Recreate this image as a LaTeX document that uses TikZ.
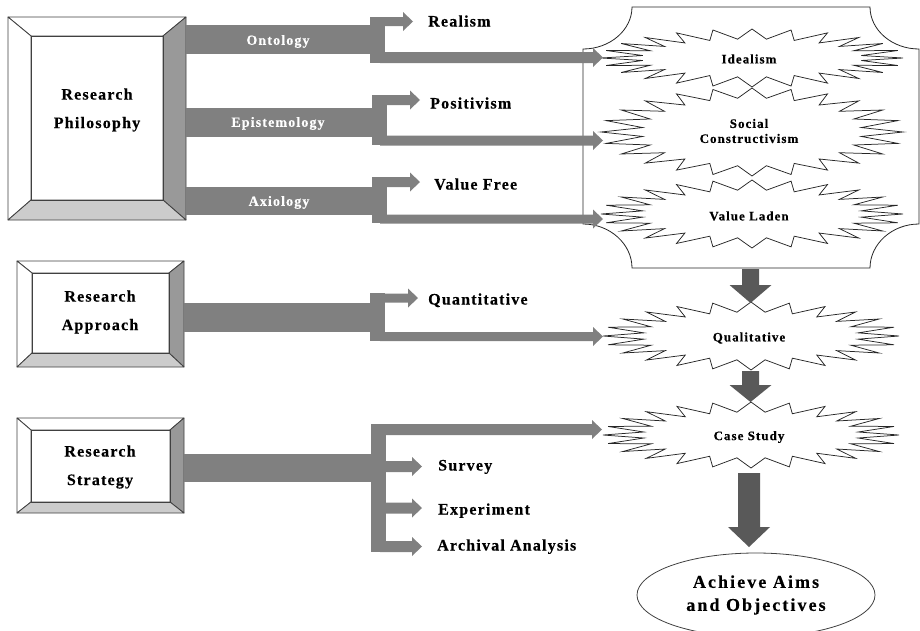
\documentclass[tikz,border=0pt]{standalone}
\usepackage{fontspec}
\setmainfont{Liberation Serif}
\newfontfamily\boxfont[LetterSpace=7.5, BoldFeatures={FakeBold=0.35}]{Liberation Serif}
\newfontfamily\burstfont[LetterSpace=8, BoldFeatures={FakeBold=0.3}]{Liberation Serif}
\newfontfamily\aimfont[LetterSpace=11.5, BoldFeatures={FakeBold=0.35}]{Liberation Serif}
\usetikzlibrary{shapes.geometric}
\definecolor{barc}{HTML}{808080}
\definecolor{dgray}{HTML}{595959}
\definecolor{bevR}{HTML}{999999}
\definecolor{bevB}{HTML}{CCCCCC}
\definecolor{bevS}{HTML}{404040}
\newcommand\bevelbox[8]{%
  \filldraw[bev, fill=white] (#1,#2) -- (#3,#2) -- (#7,#6) -- (#5,#6) -- cycle;
  \filldraw[bev, fill=white] (#1,#2) -- (#5,#6) -- (#5,#8) -- (#1,#4) -- cycle;
  \filldraw[bev, fill=bevR] (#3,#2) -- (#3,#4) -- (#7,#8) -- (#7,#6) -- cycle;
  \filldraw[bev, fill=bevB] (#1,#4) -- (#3,#4) -- (#7,#8) -- (#5,#8) -- cycle;
  \draw[bev] (#5,#6) rectangle (#7,#8);}
\newcommand\burstshape[4]{%
  \begin{scope}[shift={(#1,#2)}]
  \draw[burstline] (#3,0)
    \foreach \i [evaluate=\i as \px using {(#3-0.27*#3*mod(\i,2))*cos(\i*7.5)},
                 evaluate=\i as \py using {(#4-10*mod(\i,2))*sin(\i*7.5)}] in {1,...,47}
      { -- (\px,\py) } -- cycle;
  \end{scope}}
\newcommand\harr[4]{% x1, tip x, y, half thickness
  \fill[barc] (#1,#3-#4) -- (#2-10,#3-#4) -- (#2-10,#3-9.5) -- (#2,#3)
    -- (#2-10,#3+9.5) -- (#2-10,#3+#4) -- (#1,#3+#4) -- cycle;}
\newcommand\varr[5]{% x, y1, tip y, half shaft, head length
  \fill[dgray] (#1-#4,#2) -- (#1+#4,#2) -- (#1+#4,#3-#5) -- (#1+21,#3-#5)
    -- (#1,#3) -- (#1-21,#3-#5) -- (#1-#4,#3-#5) -- cycle;}
\begin{document}
\begin{tikzpicture}[x=1pt,y=-1pt,
  bev/.style={draw=bevS, line width=0.8pt, line join=round},
  burstline/.style={draw=black!85, line width=0.75pt, line join=miter},
  plaq/.style={draw=black!85, line width=0.8pt},
  boxtxt/.style={font=\boxfont\bfseries\fontsize{16}{28.5}\selectfont, align=center, inner sep=0pt},
  lbl/.style={font=\boxfont\bfseries\fontsize{16}{19}\selectfont, anchor=west, inner sep=0pt, text height=11pt, text depth=0pt},
  bartxt/.style={font=\burstfont\bfseries\fontsize{14}{16}\selectfont, text=white, inner sep=0pt, text height=9.5pt, text depth=0pt},
  bursttxt/.style={font=\burstfont\bfseries\fontsize{13}{15}\selectfont, align=center, inner sep=0pt},
  aim/.style={ellipse, draw=bevS, line width=0.8pt, minimum width=238pt, minimum height=84pt, inner sep=0pt,
    font=\aimfont\bfseries\fontsize{18}{23}\selectfont, align=center}]
\useasboundingbox (0,0) rectangle (920,630);

% ---- left boxes
\bevelbox{8}{17}{186}{220}{31}{36}{163}{200}
\node[boxtxt] (phil) at (97,110) {Research\\Philosophy};
\bevelbox{17}{261}{184}{367}{32}{273}{169}{353}
\node[boxtxt] (appr) at (100,312) {Research\\Approach};
\bevelbox{17}{418}{184}{513}{31}{430}{170}{502}
\node[boxtxt] (strat) at (100,467) {Research\\Strategy};

% ---- plaque
\draw[plaq] (632,7) -- (870,7) .. controls (870,30) and (892,49) .. (919,49)
  -- (919,224) .. controls (892,224) and (870,244) .. (870,268)
  -- (632,268) .. controls (632,244) and (610,224) .. (583,224)
  -- (583,49) .. controls (610,49) and (632,30) .. (632,7) -- cycle;

% ---- bursts
\burstshape{752}{58}{151}{29}
\burstshape{752}{132}{151}{44}
\burstshape{752}{214}{151}{34}
\burstshape{751}{336}{148}{34}
\burstshape{751}{435}{148}{33}
\node[bursttxt] (ideal) at (749,59) {Idealism};
\node[bursttxt] (social) at (749,131) {Social\\Constructivism};
\node[bursttxt] (laden) at (749,216) {Value Laden};
\node[bursttxt] (qual) at (749,338) {Qualitative};
\node[bursttxt] (case) at (749,437) {Case Study};

% ---- ontology
\fill[barc] (186,25) rectangle (385,54);
\fill[barc] (370,17) rectangle (385,63);
\harr{380}{413}{21.5}{4.5}
\harr{380}{603}{57.5}{5.5}
\node[bartxt] (ont) at (278,40) {Ontology};
% ---- epistemology
\fill[barc] (186,108) rectangle (387,137);
\fill[barc] (372,95) rectangle (387,145);
\harr{380}{420}{100}{5}
\harr{380}{603}{140.5}{5}
\node[bartxt] (epi) at (278,122) {Epistemology};
% ---- axiology
\fill[barc] (186,187) rectangle (387,215);
\fill[barc] (372,177) rectangle (387,223);
\harr{380}{420}{182}{5}
\harr{380}{603}{219}{4.5}
\node[bartxt] (axi) at (279,201) {Axiology};
% ---- approach
\fill[barc] (184,303) rectangle (385,332);
\fill[barc] (370,293) rectangle (385,341);
\harr{380}{418}{298}{4.5}
\harr{380}{603}{336.5}{4.5}
% ---- strategy
\fill[barc] (184,454) rectangle (386,482);
\fill[barc] (371,424) rectangle (386,552);
\harr{380}{602}{429.5}{5.5}
\harr{380}{422}{466.5}{5.5}
\harr{380}{422}{508}{5.5}
\harr{380}{422}{546.5}{5.5}

% ---- labels
\node[lbl] (real) at (428,21) {Realism};
\node[lbl] (posi) at (430,103) {Positivism};
\node[lbl] (vfree) at (434,184) {Value Free};
\node[lbl] (quant) at (428,299) {Quantitative};
\node[lbl] (surv) at (438,465) {Survey};
\node[lbl] (expe) at (438,509) {Experiment};
\node[lbl] (arch) at (437,545) {Archival Analysis};

% ---- down arrows
\varr{750.5}{269}{303}{8.5}{18}
\varr{750.5}{371}{402}{8.5}{17}
\varr{749}{473}{547}{11}{20}

% ---- goal
\node[aim] (goal) at (756,595) {Achieve Aims\\and Objectives};
\end{tikzpicture}
\end{document}
